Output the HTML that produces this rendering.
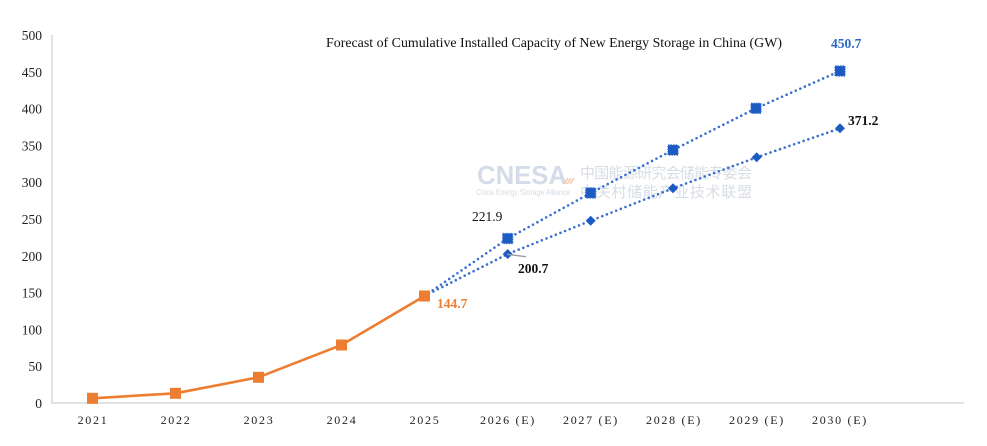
<!DOCTYPE html>
<html><head><meta charset="utf-8"><style>
html,body{margin:0;padding:0;background:#fff;}
svg{display:block;}
text{font-family:"Liberation Serif","Noto Serif CJK SC",serif;}
</style></head><body>
<svg width="987" height="446" viewBox="0 0 987 446" xmlns="http://www.w3.org/2000/svg">
<rect width="987" height="446" fill="#fff"/>
<!-- watermark -->
<g>
<text x="477" y="184" font-weight="bold" font-size="26" fill="#d3dce8" textLength="90" lengthAdjust="spacingAndGlyphs" style="font-family:'Liberation Sans',sans-serif">CNESA</text>
<path d="M564 184 l4 -6 M567 184 l4 -6 M570 184 l4 -6" stroke="#f3c9a6" stroke-width="1.5"/>
<text x="476" y="195" font-size="8.5" fill="#d3dce8" textLength="94" lengthAdjust="spacingAndGlyphs" style="font-family:'Liberation Sans',sans-serif">China Energy Storage Alliance</text>
<text x="580" y="178" font-size="15" fill="#d8dde5" textLength="172" lengthAdjust="spacing" style="font-family:'Noto Sans CJK SC',sans-serif">中国能源研究会储能专委会</text>
<text x="580" y="197" font-size="15" fill="#d8dde5" textLength="172" lengthAdjust="spacing" style="font-family:'Noto Sans CJK SC',sans-serif">中关村储能产业技术联盟</text>
</g>
<!-- axes -->
<line x1="52" y1="35" x2="52" y2="403" stroke="#d9d9d9" stroke-width="1.5"/>
<line x1="51" y1="403" x2="964" y2="403" stroke="#d9d9d9" stroke-width="1.5"/>
<!-- y labels -->
<g font-size="13.5" fill="#222" text-anchor="end">
<text x="42" y="40">500</text>
<text x="42" y="76.8">450</text>
<text x="42" y="113.6">400</text>
<text x="42" y="150.4">350</text>
<text x="42" y="187.2">300</text>
<text x="42" y="224">250</text>
<text x="42" y="260.8">200</text>
<text x="42" y="297.6">150</text>
<text x="42" y="334.4">100</text>
<text x="42" y="371.2">50</text>
<text x="42" y="408">0</text>
</g>
<!-- x labels -->
<g font-size="12" fill="#222" text-anchor="middle" letter-spacing="1.7">
<text x="93" y="424">2021</text>
<text x="176" y="424">2022</text>
<text x="259" y="424">2023</text>
<text x="342" y="424">2024</text>
<text x="425" y="424">2025</text>
<text x="508" y="424">2026 (E)</text>
<text x="591" y="424">2027 (E)</text>
<text x="674" y="424">2028 (E)</text>
<text x="757" y="424">2029 (E)</text>
<text x="840" y="424">2030 (E)</text>
</g>
<!-- title -->
<text x="326" y="47" font-size="14" fill="#111" textLength="456" lengthAdjust="spacingAndGlyphs">Forecast of Cumulative Installed Capacity of New Energy Storage in China (GW)</text>
<!-- forecast dotted lines -->
<g fill="none" stroke="#3a6fd0" stroke-width="2.6" stroke-linecap="round" stroke-dasharray="0 5">
<polyline points="424.5,296 507.7,238.5 590.7,193 673,150 756,108.3 840,71"/>
<polyline points="424.5,296 507.7,254 590.7,220.7 673,188.3 756.7,157.3 840,128.3"/>
</g>
<!-- high markers -->
<g fill="#1c5bc2" stroke="#2f6ad0" stroke-width="1.2" stroke-dasharray="1.5 1">
<rect x="502.7" y="233.5" width="10" height="10"/>
<rect x="585.7" y="188" width="10" height="10"/>
<rect x="668" y="145" width="10" height="10"/>
<rect x="751" y="103.3" width="10" height="10"/>
<rect x="835" y="66" width="10" height="10"/>
</g>
<!-- low markers -->
<g fill="#1c5bc2">
<path d="M507.7 249 l5 5 l-5 5 l-5 -5z"/>
<path d="M590.7 215.7 l5 5 l-5 5 l-5 -5z"/>
<path d="M673 183.3 l5 5 l-5 5 l-5 -5z"/>
<path d="M756.7 152.3 l5 5 l-5 5 l-5 -5z"/>
<path d="M840 123.3 l5 5 l-5 5 l-5 -5z"/>
</g>
<!-- actual -->
<polyline points="92.5,398.3 175.5,393.3 258.5,377.3 341.5,345 424.5,296" fill="none" stroke="#ed7d31" stroke-width="2.6"/>
<g fill="#ed7d31">
<rect x="87" y="392.8" width="11" height="11"/>
<rect x="170" y="387.8" width="11" height="11"/>
<rect x="253" y="371.8" width="11" height="11"/>
<rect x="336" y="339.5" width="11" height="11"/>
<rect x="419" y="290.5" width="11" height="11"/>
</g>
<!-- data labels -->
<text x="437" y="308" font-size="13.5" font-weight="bold" fill="#ed7d31">144.7</text>
<text x="472" y="221" font-size="13.5" fill="#111">221.9</text>
<line x1="507" y1="254.3" x2="526" y2="256.7" stroke="#9a9a9a" stroke-width="1.3"/>
<text x="518" y="273" font-size="13.5" font-weight="bold" fill="#111">200.7</text>
<text x="831" y="48" font-size="13.5" font-weight="bold" fill="#2b66c4">450.7</text>
<text x="848" y="125" font-size="13.5" font-weight="bold" fill="#111">371.2</text>
</svg>
</body></html>
